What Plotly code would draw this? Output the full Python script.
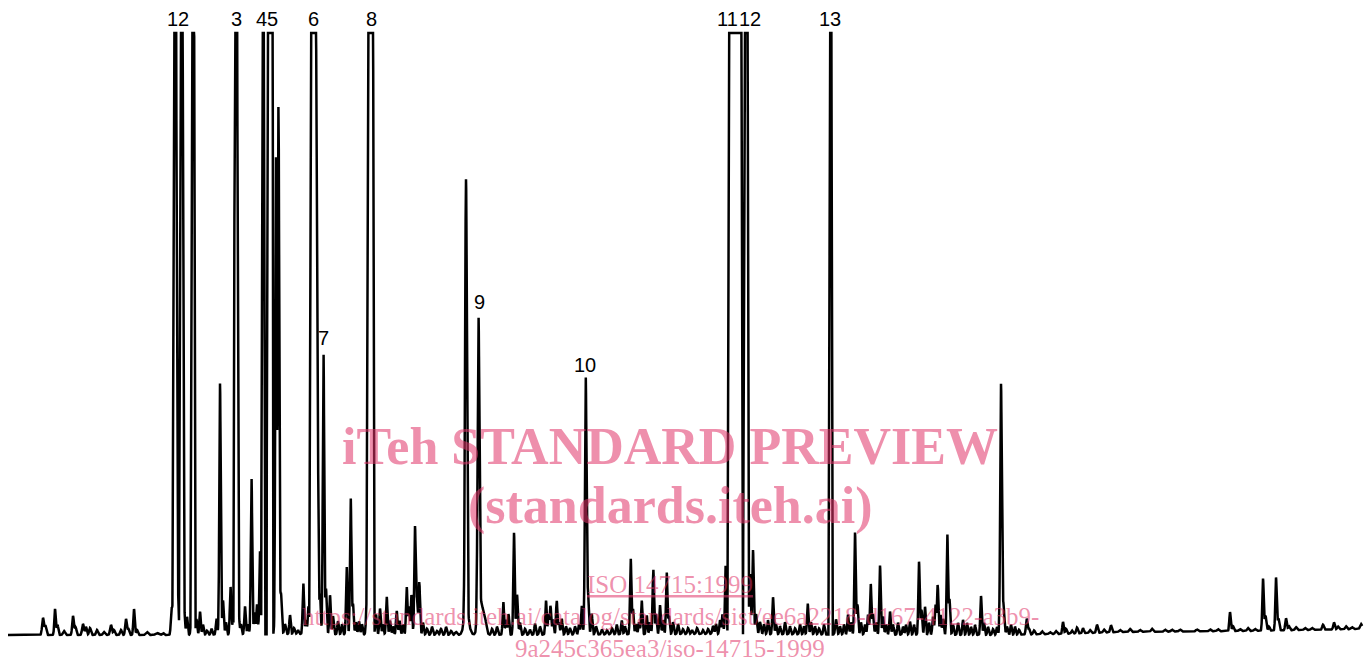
import numpy as np
import plotly.graph_objects as go

# ---------------- data ----------------
# retention position (chart units), height above baseline, peak width (sigma)
PEAKS = [
    (43, 17, 0.9), (45.5, 9, 0.8), (55, 26, 0.7), (57.5, 10, 0.8), (64, 4, 1.0),
    (73, 19, 0.8), (75.5, 8, 0.8), (83, 11, 0.9), (86, 8, 0.8), (90, 7, 0.9),
    (97, 5, 0.9), (104, 3, 1.0), (111, 10, 0.9), (114, 5, 0.8), (121, 5, 0.9),
    (126, 16, 0.8), (128.5, 6, 0.8), (134, 26, 0.7), (137, 5, 0.8), (147, 3, 1.2),
    (157, 2, 1.5), (163, 2, 1.0),
    (171.5, 26, 0.7), (173, 30, 0.6), (177.8, 45, 0.8), (184, 30, 0.8), (187, 18, 0.7),
    (191.5, 24, 0.7), (196.5, 15, 0.7), (200, 23, 0.7), (203, 10, 0.7), (207, 4, 0.8),
    (211.5, 6, 0.7), (216.5, 16, 0.7), (220, 251, 0.7), (223, 34, 0.7), (226, 12, 0.7),
    (230.5, 48, 0.7), (233, 14, 0.7), (238.5, 28, 0.7), (241, 10, 0.7), (245, 28, 0.7),
    (248, 10, 0.7), (251.5, 157, 0.7), (254.5, 22, 0.7), (257, 30, 0.7), (260, 83, 0.7),
    (276, 476, 0.7), (278.5, 531, 0.7), (281, 40, 0.8), (285, 10, 0.8), (290, 19, 0.7),
    (294, 6, 0.8), (298, 4, 0.8), (303.3, 51, 0.7), (306, 14, 0.7), (308.5, 28, 0.7),
    (317.5, 261, 0.7), (320, 40, 0.7), (323.5, 282, 0.7), (326, 45, 0.7), (330, 39, 0.7),
    (333, 18, 0.7), (338, 13, 0.7), (342, 10, 0.7), (346.7, 68, 0.7), (350.7, 137, 0.7),
    (353, 30, 0.7), (356, 12, 0.7), (359, 13, 0.7), (362, 10, 0.7), (366.7, 33, 0.7),
    (376, 20, 0.7), (380, 26, 0.7), (383, 10, 0.7), (386.7, 38, 0.7), (390, 14, 0.7),
    (393, 8, 0.7), (396.7, 24, 0.7), (399.5, 14, 0.7), (403, 10, 0.7), (406.7, 48, 0.7),
    (409, 28, 0.7), (411.5, 40, 0.7), (415, 108, 0.7), (417, 35, 0.7), (419.3, 53, 0.7),
    (423, 12, 0.7), (427, 6, 0.8), (432, 8, 0.8), (437, 4, 0.9), (441, 6, 0.8),
    (446, 8, 0.8), (451, 4, 0.9), (456, 3, 1.0),
    (466, 436, 0.9), (466.5, 20, 2.5), (478.5, 300, 0.9), (481, 30, 2.5), (485, 10, 1.5),
    (492, 6, 0.8), (497, 8, 0.8), (503.3, 33, 0.7), (506, 15, 0.7), (508.5, 21, 0.7),
    (514, 102, 0.7), (517, 40, 0.8), (520, 12, 0.7), (525, 6, 0.8), (530, 5, 0.8),
    (535, 11, 0.7), (540, 8, 0.8), (546, 34, 0.7), (548.5, 20, 0.6), (550.5, 29, 0.7),
    (553, 15, 0.7), (556.7, 34, 0.7), (559, 12, 0.7), (561.7, 16, 0.7), (566, 8, 0.8),
    (570, 6, 0.8), (575, 8, 0.8), (579, 10, 0.7), (581.7, 29, 0.7), (585.7, 258, 0.8),
    (588, 40, 0.8), (591.7, 21, 0.7), (596, 8, 0.8), (602, 5, 0.8), (607, 4, 0.8),
    (612, 6, 0.8), (616.7, 10, 0.7), (621.7, 14, 0.7), (625, 8, 0.7), (630.7, 76, 0.7),
    (633, 25, 0.7), (636, 10, 0.7), (639, 12, 0.7), (641.7, 34, 0.7), (646.7, 19, 0.7),
    (650, 12, 0.7), (653.3, 65, 0.7), (656, 20, 0.7), (660, 29, 0.7), (663, 14, 0.7),
    (666.7, 62, 0.7), (669, 18, 0.7), (673, 12, 0.7), (678, 10, 0.7), (683, 5, 0.8),
    (688, 6, 0.8), (692, 4, 0.8), (697, 6, 0.8), (703, 4, 0.8), (708, 5, 0.8),
    (713, 8, 0.8), (716, 10, 0.7), (720, 14, 0.7), (722.5, 20, 0.7), (725.7, 69, 0.7),
    (750, 60, 0.8), (753, 84, 0.7), (756, 20, 0.8), (760, 12, 0.8), (764, 10, 0.7),
    (768, 14, 0.7), (773, 37, 0.7), (776, 10, 0.7), (780, 8, 0.7), (785, 12, 0.7),
    (790, 8, 0.7), (795, 6, 0.8), (800, 10, 0.7), (804, 8, 0.7), (807.7, 31, 0.7),
    (811, 12, 0.7), (815, 8, 0.7), (819, 6, 0.8), (824, 10, 0.7), (836, 15, 0.8),
    (840, 8, 0.7), (844, 10, 0.7), (848, 20, 0.7), (851, 12, 0.7), (855, 102, 0.7),
    (857.5, 30, 0.7), (861, 12, 0.7), (865, 10, 0.7), (868, 20, 0.7), (870.7, 51, 0.7),
    (873, 20, 0.7), (876, 12, 0.7), (880, 69, 0.7), (883, 18, 0.7), (886, 10, 0.7),
    (890, 23, 0.7), (893, 10, 0.7), (898, 12, 0.7), (903, 8, 0.7), (906, 10, 0.7),
    (910, 13, 0.7), (914, 10, 0.7), (919, 73, 0.7), (921.5, 25, 0.7), (925, 28, 0.7),
    (929, 12, 0.7), (933, 18, 0.7), (935.5, 30, 0.7), (937.7, 50, 0.7), (940.5, 20, 0.7),
    (943, 16, 0.7), (947.3, 101, 0.7), (949.5, 35, 0.7), (953, 10, 0.7), (958, 12, 0.7),
    (963, 15, 0.7), (967, 12, 0.7), (971, 8, 0.7), (975, 10, 0.7), (981, 39, 0.7),
    (984, 12, 0.7), (988, 8, 0.7), (993, 6, 0.8), (997, 8, 0.7), (1001, 251, 0.8),
    (1003.5, 30, 0.8), (1007, 8, 0.8), (1011, 10, 0.7), (1015, 8, 0.7), (1019, 5, 0.8),
    (1026.7, 16, 0.8), (1029, 6, 0.8), (1034, 4, 0.9), (1042, 3, 1.0), (1050, 2, 1.0),
    (1056, 3, 1.0), (1063, 12, 0.7), (1066, 5, 0.8), (1072, 3, 0.8), (1077, 6, 0.8),
    (1083, 5, 0.8), (1090, 3, 0.9), (1097, 8, 0.8), (1104, 3, 0.9), (1111, 7, 0.8),
    (1120, 2, 1.0), (1130, 3, 1.0), (1140, 2, 1.0), (1152, 3, 1.0), (1165, 2, 1.0),
    (1172, 2, 1.0), (1180, 2, 1.0), (1197, 2, 1.0), (1210, 2, 1.0), (1218, 2, 1.0),
    (1230, 19, 0.7), (1233, 5, 0.8), (1240, 2, 1.0), (1248, 3, 1.0), (1255, 2, 1.0),
    (1263, 52, 0.7), (1265.5, 15, 0.8), (1269, 4, 0.8), (1276, 53, 0.7), (1278.5, 12, 0.8),
    (1286, 12, 0.8), (1289, 4, 0.9), (1296, 3, 1.0), (1305, 2, 1.0), (1312, 2, 1.0),
    (1323, 5, 0.8), (1334, 7, 0.8), (1338, 3, 0.9), (1346, 3, 0.9), (1352, 2, 1.0),
    (1361, 5, 1.0),
]

# overloaded (off-scale) peaks: centre, half-width at top, half-width at base
OVER_RT = [175, 181.5, 193, 236, 263, 270, 313.3, 370.5, 735, 746, 830.5]
OVER_TOP_HALF = [0.8, 0.8, 0.8, 0.8, 0.6, 2.5, 2.4, 2.2, 6.2, 1.2, 0.6]
OVER_BASE_HALF = [2.5, 2.5, 2.5, 2.5, 1.8, 3.4, 4.0, 4.0, 7.5, 3.0, 2.0]

PEN_LIMIT = 602          # recorder full scale
BASE_X = [8, 160, 300, 460, 700, 1000, 1060, 1120, 1250, 1362]
BASE_H = [0, 0, 1, 0, 1, 0, 1, 3, 4, 6]

# peak number labels: text, position, height
LABEL_TEXT = ["12", "3", "45", "6", "8", "7", "9", "10", "11", "12", "13"]
LABEL_X = [177.8, 236.3, 267, 313.3, 371.3, 323, 479.7, 585, 727.5, 750, 830]
LABEL_Y = [616, 616, 616, 616, 616, 297, 333, 270, 616, 616, 616]

# ---------------- build trace ----------------
x = np.arange(8, 1362.01, 0.2)
y = np.interp(x, BASE_X, BASE_H).astype(float)
for rt, h, w in PEAKS:
    y += h * np.exp(-0.5 * ((x - rt) / w) ** 2)
for c, th, bh in zip(OVER_RT, OVER_TOP_HALF, OVER_BASE_HALF):
    d = np.abs(x - c)
    frac = np.clip((bh - d) / (bh - th), 0, 1)
    y += frac * PEN_LIMIT * 1.3
y = np.minimum(y, PEN_LIMIT)

fig = go.Figure()
fig.add_trace(go.Scatter(x=x, y=y, mode="lines",
                         line=dict(color="black", width=2.5),
                         hoverinfo="skip", showlegend=False))

for t, lx, ly in zip(LABEL_TEXT, LABEL_X, LABEL_Y):
    fig.add_annotation(x=lx, y=ly, text=t, showarrow=False, xanchor="center",
                       yanchor="middle",
                       font=dict(family="Liberation Sans, Arial, sans-serif",
                                 size=20, color="black"))

WM = "rgba(224,51,104,0.55)"
SERIF = "Liberation Serif, Times New Roman, serif"
wm_lines = [
    ("<b>iTeh STANDARD PREVIEW</b>", 446, 52, None),
    ("<b>(standards.iteh.ai)</b>", 506, 52, None),
    ("ISO 14715:1999", 584, 25, "under"),
    ("https://standards.iteh.ai/catalog/standards/sist/ee6a2218-d167-4122-a3b9-", 616, 25, None),
    ("9a245c365ea3/iso-14715-1999", 648, 25, None),
]
for txt, py, sz, lp in wm_lines:
    f = dict(family=SERIF, size=sz, color=WM)
    if lp:
        f["lineposition"] = lp
    fig.add_annotation(xref="paper", yref="paper", x=670 / 1372, y=1 - py / 662,
                       text=txt, showarrow=False, xanchor="center", yanchor="middle",
                       font=f)

fig.update_layout(
    width=1372, height=662,
    margin=dict(l=0, r=0, t=0, b=0),
    paper_bgcolor="white", plot_bgcolor="white",
    xaxis=dict(range=[0, 1372], visible=False, fixedrange=True),
    yaxis=dict(range=[-27, 635], visible=False, fixedrange=True),
)

fig.write_html("out.html", config={"displayModeBar": False},
               post_script="document.body.style.margin='0';"
                           "document.body.style.overflow='hidden';")
